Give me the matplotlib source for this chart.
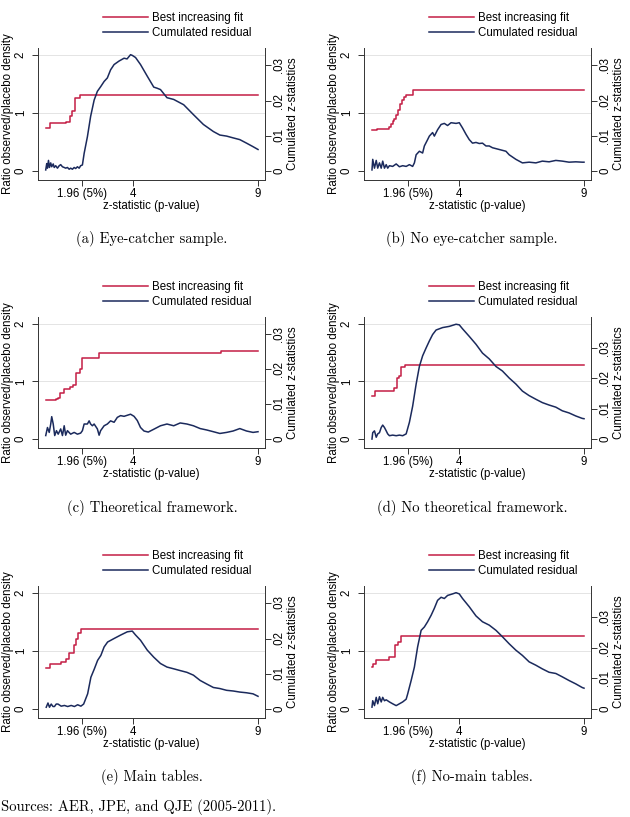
import matplotlib.pyplot as plt
from matplotlib.lines import Line2D

plt.rcParams['font.family'] = ['Liberation Sans', 'DejaVu Sans']

RED = '#C41E45'
NAVY = '#1B2A5C'
W, H = 630, 817

# best increasing fit (steps): z where a level starts, level (ratio)
z_fit_a = [0.5, 0.67, 1.29, 1.45, 1.56, 1.67, 1.87, 9.0]
fit_a = [0.735, 0.83, 0.85, 0.95, 1.03, 1.26, 1.30, 1.30]
z_fit_b = [0.5, 0.7, 0.95, 1.17, 1.25, 1.33, 1.40, 1.47, 1.55, 1.62, 1.70, 1.78, 1.87, 2.13, 9.0]
fit_b = [0.70, 0.72, 0.73, 0.75, 0.80, 0.86, 0.90, 0.97, 1.05, 1.15, 1.22, 1.27, 1.31, 1.40, 1.40]
z_fit_c = [0.5, 0.89, 1.0, 1.07, 1.23, 1.47, 1.58, 1.69, 1.85, 1.96, 2.63, 7.5, 9.0]
fit_c = [0.68, 0.70, 0.72, 0.79, 0.86, 0.91, 0.93, 1.15, 1.21, 1.40, 1.49, 1.53, 1.53]
z_fit_d = [0.5, 0.64, 1.40, 1.49, 1.60, 1.67, 1.84, 9.0]
fit_d = [0.75, 0.83, 0.89, 1.05, 1.09, 1.25, 1.28, 1.28]
z_fit_e = [0.5, 0.68, 1.11, 1.31, 1.44, 1.61, 1.71, 1.80, 1.90, 9.0]
fit_e = [0.71, 0.78, 0.81, 0.86, 0.97, 1.10, 1.21, 1.30, 1.37, 1.37]
z_fit_f = [0.5, 0.56, 0.67, 1.20, 1.44, 1.53, 1.67, 9.0]
fit_f = [0.73, 0.78, 0.85, 0.89, 1.10, 1.15, 1.25, 1.25]

# cumulated residual (right axis, cumulated z-statistics)
z_res_a = [0.49, 0.53, 0.56, 0.60, 0.64, 0.69, 0.73, 0.79, 0.83, 0.89,
           0.96, 1.03, 1.09, 1.16, 1.23, 1.29, 1.36, 1.43, 1.49, 1.56,
           1.63, 1.69, 1.76, 1.83, 1.89, 1.96, 2.03, 2.16, 2.29, 2.43,
           2.56, 2.69, 2.83, 2.96, 3.09, 3.23, 3.43, 3.63, 3.75, 3.89,
           3.96, 4.09, 4.29, 4.56, 4.82, 4.95, 5.09, 5.35, 5.62, 6.02,
           6.41, 6.81, 7.21, 7.47, 7.74, 8.0, 8.27, 8.54, 8.80, 9.0]
res_a = [0.0003, 0.0021, 0.0008, 0.0030, 0.0010, 0.0023, 0.0012, 0.0020, 0.0010, 0.0015,
         0.0008, 0.0015, 0.0018, 0.0012, 0.0010, 0.0008, 0.0010, 0.0005, 0.0008, 0.0005,
         0.0010, 0.0007, 0.0012, 0.0008, 0.0015, 0.0017, 0.0050, 0.0097, 0.0155, 0.0201,
         0.0226, 0.0239, 0.0254, 0.0264, 0.0287, 0.0302, 0.0312, 0.0320, 0.0318, 0.0330,
         0.0328, 0.0322, 0.0302, 0.0269, 0.0238, 0.0235, 0.0231, 0.0208, 0.0203, 0.0188,
         0.0160, 0.0132, 0.0112, 0.0102, 0.0099, 0.0094, 0.0089, 0.0079, 0.0069, 0.0061]

z_res_b = [0.5, 0.53, 0.60, 0.67, 0.73, 0.80, 0.87, 0.93, 1.00, 1.07,
           1.13, 1.20, 1.33, 1.47, 1.60, 1.73, 1.87, 2.00, 2.13, 2.20,
           2.27, 2.40, 2.53, 2.60, 2.73, 2.80, 2.93, 3.00, 3.13, 3.27,
           3.40, 3.53, 3.67, 3.87, 4.00, 4.13, 4.27, 4.40, 4.53, 4.67,
           4.80, 4.93, 5.07, 5.20, 5.33, 5.60, 5.87, 6.00, 6.27, 6.53,
           6.80, 7.07, 7.33, 7.60, 7.87, 8.13, 8.40, 8.67, 8.93, 9.0]
res_b = [0.0003, 0.0033, 0.0008, 0.0030, 0.0008, 0.0023, 0.0008, 0.0028, 0.0008, 0.0018,
         0.0008, 0.0015, 0.0013, 0.0020, 0.0012, 0.0015, 0.0013, 0.0018, 0.0013, 0.0023,
         0.0046, 0.0056, 0.0051, 0.0071, 0.0089, 0.0099, 0.0109, 0.0099, 0.0117, 0.0132,
         0.0135, 0.0129, 0.0137, 0.0135, 0.0137, 0.0122, 0.0104, 0.0089, 0.0079, 0.0081,
         0.0078, 0.0079, 0.0071, 0.0071, 0.0066, 0.0061, 0.0056, 0.0046, 0.0033, 0.0023,
         0.0025, 0.0023, 0.0028, 0.0026, 0.0030, 0.0028, 0.0025, 0.0026, 0.0025, 0.0025]

z_res_c = [0.49, 0.56, 0.63, 0.69, 0.73, 0.79, 0.85, 0.92, 0.99, 1.09,
           1.16, 1.23, 1.29, 1.36, 1.49, 1.63, 1.76, 1.89, 1.96, 2.03,
           2.16, 2.23, 2.29, 2.36, 2.43, 2.56, 2.63, 2.69, 2.83, 2.96,
           3.09, 3.23, 3.36, 3.49, 3.63, 3.76, 3.89, 4.03, 4.16, 4.29,
           4.43, 4.60, 4.82, 5.09, 5.35, 5.62, 5.88, 6.15, 6.41, 6.68,
           6.94, 7.21, 7.47, 7.74, 8.0, 8.27, 8.54, 8.80, 9.0]
res_c = [0.0010, 0.0033, 0.0019, 0.0043, 0.0064, 0.0043, 0.0010, 0.0024, 0.0014, 0.0029,
         0.0010, 0.0038, 0.0011, 0.0024, 0.0014, 0.0019, 0.0014, 0.0017, 0.0024, 0.0043,
         0.0043, 0.0052, 0.0043, 0.0038, 0.0043, 0.0029, 0.0011, 0.0024, 0.0038, 0.0043,
         0.0052, 0.0048, 0.0062, 0.0067, 0.0065, 0.0068, 0.0071, 0.0065, 0.0053, 0.0033,
         0.0023, 0.0020, 0.0028, 0.0038, 0.0043, 0.0038, 0.0046, 0.0043, 0.0038, 0.0030,
         0.0026, 0.0021, 0.0016, 0.0019, 0.0023, 0.0030, 0.0023, 0.0019, 0.0021]

z_res_d = [0.5, 0.53, 0.60, 0.67, 0.73, 0.80, 0.87, 0.93, 1.00, 1.07,
           1.13, 1.20, 1.33, 1.47, 1.60, 1.73, 1.87, 2.00, 2.13, 2.27,
           2.40, 2.53, 2.67, 2.80, 2.93, 3.07, 3.33, 3.60, 3.87, 4.00,
           4.13, 4.40, 4.67, 4.93, 5.20, 5.47, 5.73, 6.00, 6.27, 6.53,
           6.80, 7.07, 7.33, 7.60, 7.87, 8.13, 8.40, 8.67, 8.93, 9.0]
res_d = [0.0, 0.0021, 0.0027, 0.0006, 0.0017, 0.0021, 0.0038, 0.0046, 0.0038, 0.0027,
         0.0017, 0.0011, 0.0013, 0.0011, 0.0013, 0.0011, 0.0017, 0.0055, 0.0108, 0.0181,
         0.0239, 0.0274, 0.0300, 0.0323, 0.0344, 0.0359, 0.0367, 0.0371, 0.0378, 0.0376,
         0.0363, 0.0338, 0.0312, 0.0283, 0.0264, 0.0239, 0.0224, 0.0201, 0.0181, 0.0158,
         0.0143, 0.0131, 0.0120, 0.0112, 0.0105, 0.0093, 0.0086, 0.0076, 0.0068, 0.0067]

z_res_e = [0.51, 0.58, 0.64, 0.71, 0.78, 0.84, 0.91, 0.98, 1.11, 1.24,
           1.37, 1.51, 1.64, 1.77, 1.90, 2.01, 2.17, 2.30, 2.44, 2.57,
           2.70, 2.83, 2.97, 3.23, 3.50, 3.76, 3.96, 4.09, 4.29, 4.56,
           4.82, 5.09, 5.35, 5.62, 5.88, 6.15, 6.41, 6.68, 6.94, 7.21,
           7.47, 7.74, 8.01, 8.27, 8.54, 8.80, 9.0]
res_e = [0.0005, 0.0017, 0.0005, 0.0014, 0.0007, 0.0007, 0.0014, 0.0014, 0.0008, 0.0010,
         0.0007, 0.0010, 0.0007, 0.0012, 0.0008, 0.0014, 0.0043, 0.0090, 0.0114, 0.0138,
         0.0152, 0.0176, 0.0190, 0.0200, 0.0210, 0.0219, 0.0221, 0.0210, 0.0195, 0.0167,
         0.0147, 0.0129, 0.0119, 0.0114, 0.0109, 0.0104, 0.0096, 0.0081, 0.0071, 0.0061,
         0.0058, 0.0053, 0.0051, 0.0048, 0.0046, 0.0043, 0.0036]

z_res_f = [0.5, 0.53, 0.60, 0.67, 0.73, 0.80, 0.87, 0.93, 1.00, 1.07,
           1.20, 1.33, 1.47, 1.60, 1.73, 1.87, 1.93, 2.07, 2.20, 2.33,
           2.47, 2.60, 2.73, 2.87, 3.00, 3.13, 3.27, 3.40, 3.53, 3.73,
           3.87, 4.00, 4.13, 4.40, 4.67, 4.93, 5.20, 5.47, 5.73, 6.00,
           6.27, 6.53, 6.80, 7.07, 7.33, 7.60, 7.87, 8.13, 8.40, 8.67,
           8.93, 9.0]
res_f = [0.0006, 0.0027, 0.0011, 0.0038, 0.0017, 0.0040, 0.0023, 0.0038, 0.0027, 0.0030,
         0.0023, 0.0017, 0.0011, 0.0017, 0.0023, 0.0032, 0.0049, 0.0093, 0.0137, 0.0203,
         0.0257, 0.0268, 0.0285, 0.0306, 0.0329, 0.0355, 0.0365, 0.0361, 0.0371, 0.0376,
         0.0380, 0.0376, 0.0361, 0.0334, 0.0304, 0.0285, 0.0274, 0.0257, 0.0236, 0.0213,
         0.0192, 0.0175, 0.0154, 0.0143, 0.0131, 0.0120, 0.0116, 0.0105, 0.0093, 0.0082,
         0.0070, 0.0068]

# right-axis units per one unit of the left axis (scale of each panel)
resid_scale = [0.0165, 0.0165, 0.0165, 0.019, 0.0165, 0.019]

captions = ['(a) Eye-catcher sample.', '(b) No eye-catcher sample.',
            '(c) Theoretical framework.', '(d) No theoretical framework.',
            '(e) Main tables.', '(f) No-main tables.']

fits = [(z_fit_a, fit_a), (z_fit_b, fit_b), (z_fit_c, fit_c),
        (z_fit_d, fit_d), (z_fit_e, fit_e), (z_fit_f, fit_f)]
resids = [(z_res_a, res_a), (z_res_b, res_b), (z_res_c, res_c),
          (z_res_d, res_d), (z_res_e, res_e), (z_res_f, res_f)]

x_ticks = [1.96, 4, 9]
x_ticklabels = ['1.96 (5%)', '4', '9']

FS = 8.3
fig = plt.figure(figsize=(6.3, 8.17), dpi=100)

cols = [(38, 265), (364, 591)]
rows = [(48, 180), (317, 448), (586, 718)]
cap_x = [152, 472]
cap_y = [239, 508, 777]
ylo, yhi = -0.155, 2.115

for i in range(6):
    r, c = divmod(i, 2)
    left, right = cols[c]
    top, bottom = rows[r]
    ax = fig.add_axes([left / W, 1 - bottom / H, (right - left) / W, (bottom - top) / H])
    k = resid_scale[i]

    zf, vf = fits[i]
    ax.step(zf, vf, where='post', color=RED, lw=1.1, zorder=3)
    ax.set_xlim(0.18, 9.28)
    ax.set_ylim(ylo, yhi)
    ax.set_yticks([0, 1, 2])
    ax.set_yticklabels(['0', '1', '2'], rotation=90, va='center')
    ax.set_xticks(x_ticks)
    ax.set_xticklabels(x_ticklabels)
    ax.yaxis.grid(True, color='#E4E4E4', lw=0.7)
    ax.get_ygridlines()[0].set_visible(False)
    ax.set_axisbelow(True)
    ax.tick_params(labelsize=FS, length=4, width=0.7, pad=2, color='#333333')
    ax.tick_params(axis='y', pad=4)
    ax.set_ylabel('Ratio observed/placebo density', fontsize=FS, labelpad=0.5)
    ax.set_xlabel('z-statistic (p-value)', fontsize=FS, labelpad=0)
    for s in ['top', 'right']:
        ax.spines[s].set_visible(False)
    for s in ['left', 'bottom']:
        ax.spines[s].set_linewidth(0.7)
        ax.spines[s].set_color('#333333')

    tw = ax.twinx()
    zr, vr = resids[i]
    tw.plot(zr, vr, color=NAVY, lw=1.1)
    tw.set_ylim(ylo * k, yhi * k)
    tw.set_yticks([0, 0.01, 0.02, 0.03])
    tw.set_yticklabels(['0', '.01', '.02', '.03'], rotation=90, va='center')
    tw.tick_params(labelsize=FS, length=4, width=0.7, pad=2, color='#333333')
    tw.set_ylabel('Cumulated z-statistics', fontsize=FS, labelpad=1)
    for s in ['top', 'left', 'bottom']:
        tw.spines[s].set_visible(False)
    tw.spines['right'].set_linewidth(0.7)
    tw.spines['right'].set_color('#333333')

    handles = [Line2D([], [], color=RED, lw=1.1), Line2D([], [], color=NAVY, lw=1.1)]
    ax.legend(handles, ['Best increasing fit', 'Cumulated residual'],
              loc='lower left', bbox_to_anchor=((103 - 38) / 227, 1 + 9 / 132),
              frameon=False, fontsize=FS, handlelength=3.9, handletextpad=0.35,
              labelspacing=0.25, borderpad=0, borderaxespad=0)

    fig.text(cap_x[c] / W, 1 - cap_y[r] / H, captions[i], ha='center', va='center',
             family='cmr10', fontsize=10.5)

fig.text(1 / W, 1 - 815 / H, 'Sources: AER, JPE, and QJE (2005-2011).',
         ha='left', va='bottom', family='cmr10', fontsize=10.5)

fig.savefig('out.png', dpi=100)
